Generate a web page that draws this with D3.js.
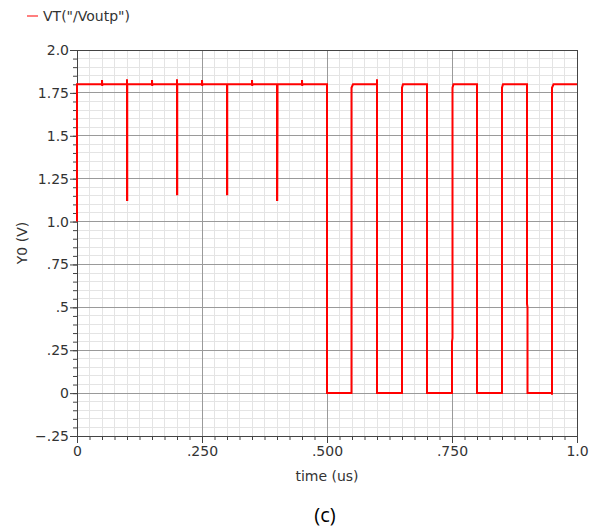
<!DOCTYPE html>
<html>
<head>
<meta charset="utf-8">
<script src="https://cdn.jsdelivr.net/npm/d3@7"></script>
<style>
  body { margin: 0; background: #fff; }
  svg { display: block; }
</style>
</head>
<body>
<div id="chart"></div>
<script>
// transient waveform VT("/Voutp"), time in us, value in V
const timeUs = [
  0, 0, 0.05, 0.05, 0.0505, 0.0505,
  0.1, 0.1, 0.1, 0.1005, 0.1005,
  0.15, 0.15, 0.1505, 0.1505,
  0.2, 0.2, 0.2, 0.2005, 0.2005,
  0.25, 0.25, 0.2505, 0.2505,
  0.3, 0.3, 0.3005, 0.3005,
  0.35, 0.35, 0.3505, 0.3505,
  0.4, 0.4, 0.4005, 0.401, 0.401,
  0.45, 0.45, 0.4505, 0.4505,
  0.5, 0.5, 0.549, 0.549, 0.552,
  0.6, 0.6, 0.6, 0.65, 0.65, 0.652,
  0.7, 0.7, 0.75, 0.75, 0.751, 0.751, 0.751, 0.753,
  0.8, 0.8, 0.85, 0.85, 0.852,
  0.9, 0.9, 0.901, 0.901, 0.95, 0.95, 0.95, 0.953, 1.0
];
const voutp = [
  1.0, 1.8, 1.8, 1.825, 1.79, 1.8,
  1.8, 1.83, 1.126, 1.126, 1.8,
  1.8, 1.825, 1.79, 1.8,
  1.8, 1.83, 1.159, 1.159, 1.8,
  1.8, 1.825, 1.79, 1.8,
  1.8, 1.159, 1.159, 1.8,
  1.8, 1.825, 1.79, 1.8,
  1.8, 1.126, 1.126, 1.6, 1.8,
  1.8, 1.825, 1.79, 1.8,
  1.8, 0, 0, 1.78, 1.8,
  1.8, 1.83, 0, 0, 1.78, 1.8,
  1.8, 0, 0, 0.3, 0.32, 0.4, 1.78, 1.8,
  1.8, 0, 0, 1.78, 1.8,
  1.8, 0.52, 0.5, 0, 0, -0.01, 1.78, 1.8, 1.8
];

const yTicks = [2.0, 1.75, 1.5, 1.25, 1.0, 0.75, 0.5, 0.25, 0, -0.25];
const yTickLabels = ["2.0", "1.75", "1.5", "1.25", "1.0", ".75", ".5", ".25", "0", "\u2212.25"];
const xTicks = [0, 0.25, 0.5, 0.75, 1.0];
const xTickLabels = ["0", ".250", ".500", ".750", "1.0"];

const width = 597;
const height = 527;
const margin = {left: 77, right: 20, top: 50, bottom: 91};
const font = "DejaVu Sans, Verdana, sans-serif";

const svg = d3.select("#chart")
  .append("svg")
  .attr("width", width)
  .attr("height", height);

const x = d3.scaleLinear().domain([0, 1]).range([margin.left, width - margin.right]);
const y = d3.scaleLinear().domain([-0.25, 2.0]).range([height - margin.bottom, margin.top]);

// minor grid
const xMinor = d3.range(0, 1.0001, 0.025);
const yMinor = d3.range(-0.25, 2.0001, 0.05);

svg.append("g").selectAll("line")
  .data(xMinor)
  .enter().append("line")
  .attr("x1", d => x(d)).attr("x2", d => x(d))
  .attr("y1", y(2.0)).attr("y2", y(-0.25))
  .attr("stroke", "#e4e4e4").attr("stroke-width", 1)
  .attr("shape-rendering", "crispEdges");

svg.append("g").selectAll("line")
  .data(yMinor)
  .enter().append("line")
  .attr("x1", x(0)).attr("x2", x(1))
  .attr("y1", d => y(d)).attr("y2", d => y(d))
  .attr("stroke", "#e4e4e4").attr("stroke-width", 1)
  .attr("shape-rendering", "crispEdges");

// major grid
svg.append("g").selectAll("line")
  .data(xTicks)
  .enter().append("line")
  .attr("x1", d => x(d)).attr("x2", d => x(d))
  .attr("y1", y(2.0)).attr("y2", y(-0.25))
  .attr("stroke", "#9a9a9a").attr("stroke-width", 1)
  .attr("shape-rendering", "crispEdges");

svg.append("g").selectAll("line")
  .data(yTicks)
  .enter().append("line")
  .attr("x1", x(0)).attr("x2", x(1))
  .attr("y1", d => y(d)).attr("y2", d => y(d))
  .attr("stroke", "#9a9a9a").attr("stroke-width", 1)
  .attr("shape-rendering", "crispEdges");

// frame: top and right border
svg.append("line")
  .attr("x1", x(0)).attr("x2", x(1)).attr("y1", y(2.0)).attr("y2", y(2.0))
  .attr("stroke", "#444").attr("shape-rendering", "crispEdges");
svg.append("line")
  .attr("x1", x(1)).attr("x2", x(1)).attr("y1", y(2.0)).attr("y2", y(-0.25))
  .attr("stroke", "#444").attr("shape-rendering", "crispEdges");

// axes
const yAxis = svg.append("g")
  .attr("transform", `translate(${x(0)},0)`)
  .call(d3.axisLeft(y).tickValues(yMinor).tickSize(4).tickFormat(""));
yAxis.call(g => g.append("g").call(d3.axisLeft(y).tickValues(yTicks).tickSize(7)
  .tickFormat((d, i) => yTickLabels[i])));

const xAxis = svg.append("g")
  .attr("transform", `translate(0,${y(-0.25)})`)
  .call(d3.axisBottom(x).tickValues(xMinor).tickSize(4).tickFormat(""));
xAxis.call(g => g.append("g").call(d3.axisBottom(x).tickValues(xTicks).tickSize(7)
  .tickFormat((d, i) => xTickLabels[i])));

svg.selectAll(".domain").attr("stroke", "#444");
svg.selectAll(".tick line").attr("stroke", "#444");
svg.selectAll(".tick text")
  .attr("font-family", font)
  .attr("font-size", "14px")
  .attr("fill", "#333");
yAxis.selectAll(".tick text").attr("x", -8);
xAxis.selectAll(".tick text").attr("y", 10);

// waveform
const points = timeUs.map((t, i) => [t, voutp[i]]);
const line = d3.line()
  .x(d => x(d[0]))
  .y(d => y(d[1]));

svg.append("path")
  .datum(points)
  .attr("fill", "none")
  .attr("stroke", "#ff0000")
  .attr("stroke-width", 2)
  .attr("d", line);

// axis titles
svg.append("text")
  .attr("x", (x(0) + x(1)) / 2)
  .attr("y", 481)
  .attr("text-anchor", "middle")
  .attr("font-family", font)
  .attr("font-size", "14px")
  .attr("fill", "#333")
  .text("time (us)");

svg.append("text")
  .attr("transform", `translate(27,${(y(2.0) + y(-0.25)) / 2}) rotate(-90)`)
  .attr("text-anchor", "middle")
  .attr("font-family", font)
  .attr("font-size", "14px")
  .attr("fill", "#333")
  .text("Y0 (V)");

// legend
svg.append("line")
  .attr("x1", 27).attr("x2", 38).attr("y1", 16).attr("y2", 16)
  .attr("stroke", "#ff5555").attr("stroke-width", 1.5);
svg.append("text")
  .attr("x", 43).attr("y", 21)
  .attr("font-family", font)
  .attr("font-size", "14px")
  .attr("fill", "#333")
  .text("VT(\"/Voutp\")");

// caption
svg.append("text")
  .attr("x", 325).attr("y", 522)
  .attr("text-anchor", "middle")
  .attr("font-family", "Open Sans, Liberation Sans, sans-serif")
  .attr("font-size", "20px")
  .attr("fill", "#000")
  .text("(c)");
</script>
</body>
</html>
